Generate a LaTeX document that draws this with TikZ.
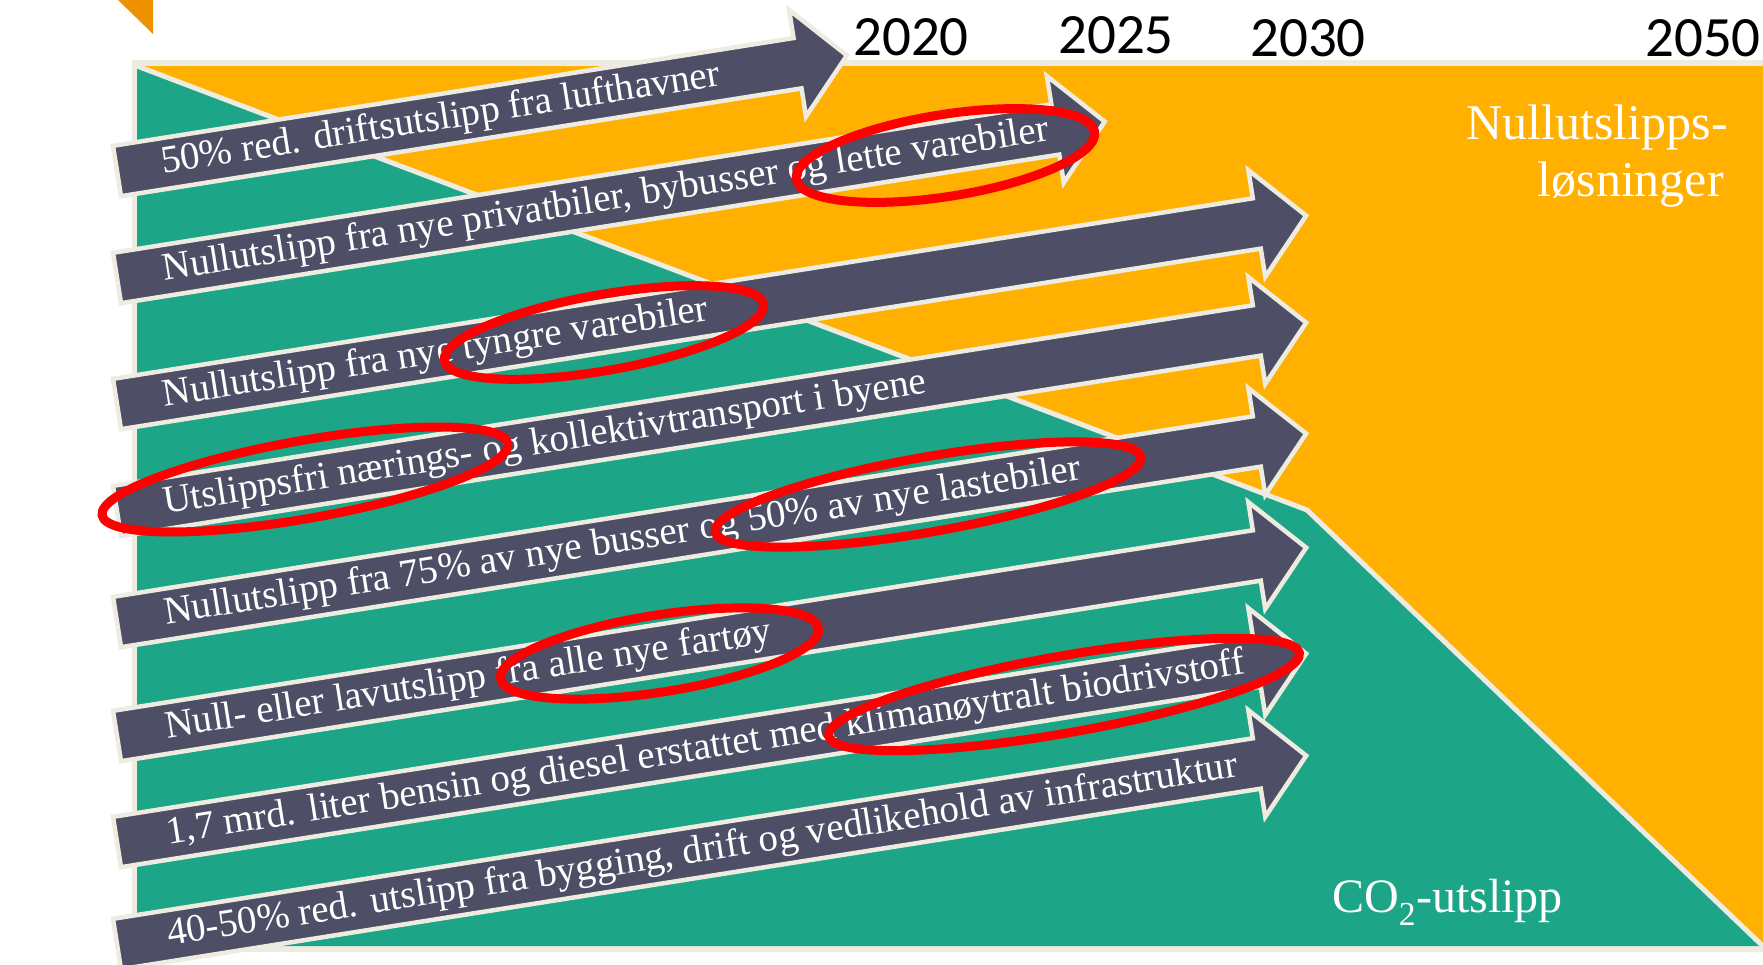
\documentclass[tikz,border=0pt]{standalone}
\usepackage{fontspec}
\setmainfont{Liberation Serif}
\newfontfamily\yearfont{Carlito}
\usetikzlibrary{shapes.geometric}
\definecolor{orng}{HTML}{FFB000}
\definecolor{tealc}{HTML}{1CA587}
\definecolor{darkarrow}{HTML}{4E4F66}
\definecolor{beige}{HTML}{EEECE1}
\definecolor{cornerc}{HTML}{EE9200}
\definecolor{ringred}{HTML}{FF0000}
\begin{document}
\begin{tikzpicture}[x=1pt,y=-1pt,
  arrowbody/.style={fill=darkarrow, draw=beige, line width=4.5pt, line join=miter, miter limit=10},
  arrowtext/.style={text=white, font=\fontsize{39}{47}\selectfont, inner sep=0pt, anchor=base west, transform shape},
  ring/.style={draw=ringred, line width=9pt, ellipse, inner sep=0pt, outer sep=0pt},
  yearlbl/.style={font=\yearfont\fontsize{57}{60}\selectfont, inner sep=0pt, anchor=base west, text=black},
  biglbl/.style={font=\fontsize{50}{57}\selectfont, inner sep=0pt, text=white}]
\useasboundingbox (0,0) rectangle (1763,965);
\clip (0,0) rectangle (1763,965);
\fill[white] (0,0) rectangle (1763,965);
% corner mark
\fill[cornerc] (118,0) -- (153,0) -- (153,34) -- cycle;
% panel
\fill[beige] (132,60) rectangle (1770,952);
\fill[orng] (137,66) rectangle (1770,946);
\fill[tealc] (137,66) -- (1307,510) -- (1763,946) -- (137,946) -- cycle;
\draw[beige, line width=5pt] (137,66) -- (1307,510) -- (1768,951);
% arrows
\begin{scope}[shift={(117,171)}, rotate=9]
 \draw[arrowbody] (0,-25.5) -- (689,-25.5) -- (689,-54) -- (739,0) -- (689,54) -- (689,25.5) -- (0,25.5) -- cycle;
 \node[arrowtext] (t1) at (45,10) {50\% red. driftsutslipp fra lufthavner};
\end{scope}
\begin{scope}[shift={(117,278)}, rotate=9]
 \draw[arrowbody] (0,-25.5) -- (950,-25.5) -- (950,-54) -- (1000,0) -- (950,54) -- (950,25.5) -- (0,25.5) -- cycle;
 \node[arrowtext] (t2) at (46,10) {Nullutslipp fra nye privatbiler, bybusser og lette varebiler};
\end{scope}
\begin{scope}[shift={(117,404)}, rotate=9]
 \draw[arrowbody] (0,-25.5) -- (1154,-25.5) -- (1154,-54) -- (1204,0) -- (1154,54) -- (1154,25.5) -- (0,25.5) -- cycle;
 \node[arrowtext] (t3) at (46,10) {Nullutslipp fra nye tyngre varebiler};
\end{scope}
\begin{scope}[shift={(117,511)}, rotate=9]
 \draw[arrowbody] (0,-25.5) -- (1154,-25.5) -- (1154,-54) -- (1204,0) -- (1154,54) -- (1154,25.5) -- (0,25.5) -- cycle;
 \node[arrowtext] (t4) at (47,10) {Utslippsfri nærings- og kollektivtransport i byene};
\end{scope}
\begin{scope}[shift={(117,622)}, rotate=9]
 \draw[arrowbody] (0,-25.5) -- (1154,-25.5) -- (1154,-54) -- (1204,0) -- (1154,54) -- (1154,25.5) -- (0,25.5) -- cycle;
 \node[arrowtext] (t5) at (48,10) {Nullutslipp fra 75\% av nye busser og 50\% av nye lastebiler};
\end{scope}
\begin{scope}[shift={(117,736)}, rotate=9]
 \draw[arrowbody] (0,-25.5) -- (1154,-25.5) -- (1154,-54) -- (1204,0) -- (1154,54) -- (1154,25.5) -- (0,25.5) -- cycle;
 \node[arrowtext] (t6) at (49,10) {Null- eller lavutslipp fra alle nye fartøy};
\end{scope}
\begin{scope}[shift={(117,842)}, rotate=9]
 \draw[arrowbody] (0,-25.5) -- (1154,-25.5) -- (1154,-54) -- (1204,0) -- (1154,54) -- (1154,25.5) -- (0,25.5) -- cycle;
 \node[arrowtext] (t7) at (50,10) {1,7 mrd. liter bensin og diesel erstattet med klimanøytralt biodrivstoff};
\end{scope}
\begin{scope}[shift={(117,944)}, rotate=9]
 \draw[arrowbody] (0,-25.5) -- (1154,-25.5) -- (1154,-54) -- (1204,0) -- (1154,54) -- (1154,25.5) -- (0,25.5) -- cycle;
 \node[arrowtext] (t8) at (51,10) {40-50\% red. utslipp fra bygging, drift og vedlikehold av infrastruktur};
\end{scope}
% years
\node[yearlbl] (y2020) at (853,56) {2020};
\node[yearlbl] (y2025) at (1058,54) {2025};
\node[yearlbl] (y2030) at (1250,57) {2030};
\node[yearlbl] (y2050) at (1645,57) {2050};
% area labels
\node[biglbl, anchor=base east] (nul1) at (1728,140) {Nullutslipps-};
\node[biglbl, anchor=base east] (nul2) at (1724,197) {løsninger};
\node[biglbl, anchor=base west, font=\fontsize{48}{54}\selectfont] (co2) at (1332,912) {CO\textsubscript{2}-utslipp};
% red rings
\node[ring, minimum width=302pt, minimum height=82pt, rotate=9] (e1) at (945.5,155.5) {};
\node[ring, minimum width=324pt, minimum height=76pt, rotate=10] (e2) at (604,332.5) {};
\node[ring, minimum width=412pt, minimum height=78pt, rotate=10] (e3) at (305,479.5) {};
\node[ring, minimum width=432pt, minimum height=75pt, rotate=10] (e4) at (928,494.5) {};
\node[ring, minimum width=322pt, minimum height=77pt, rotate=9] (e5) at (659.5,653.5) {};
\node[ring, minimum width=478pt, minimum height=77pt, rotate=10] (e6) at (1064,694.5) {};
\end{tikzpicture}
\end{document}
